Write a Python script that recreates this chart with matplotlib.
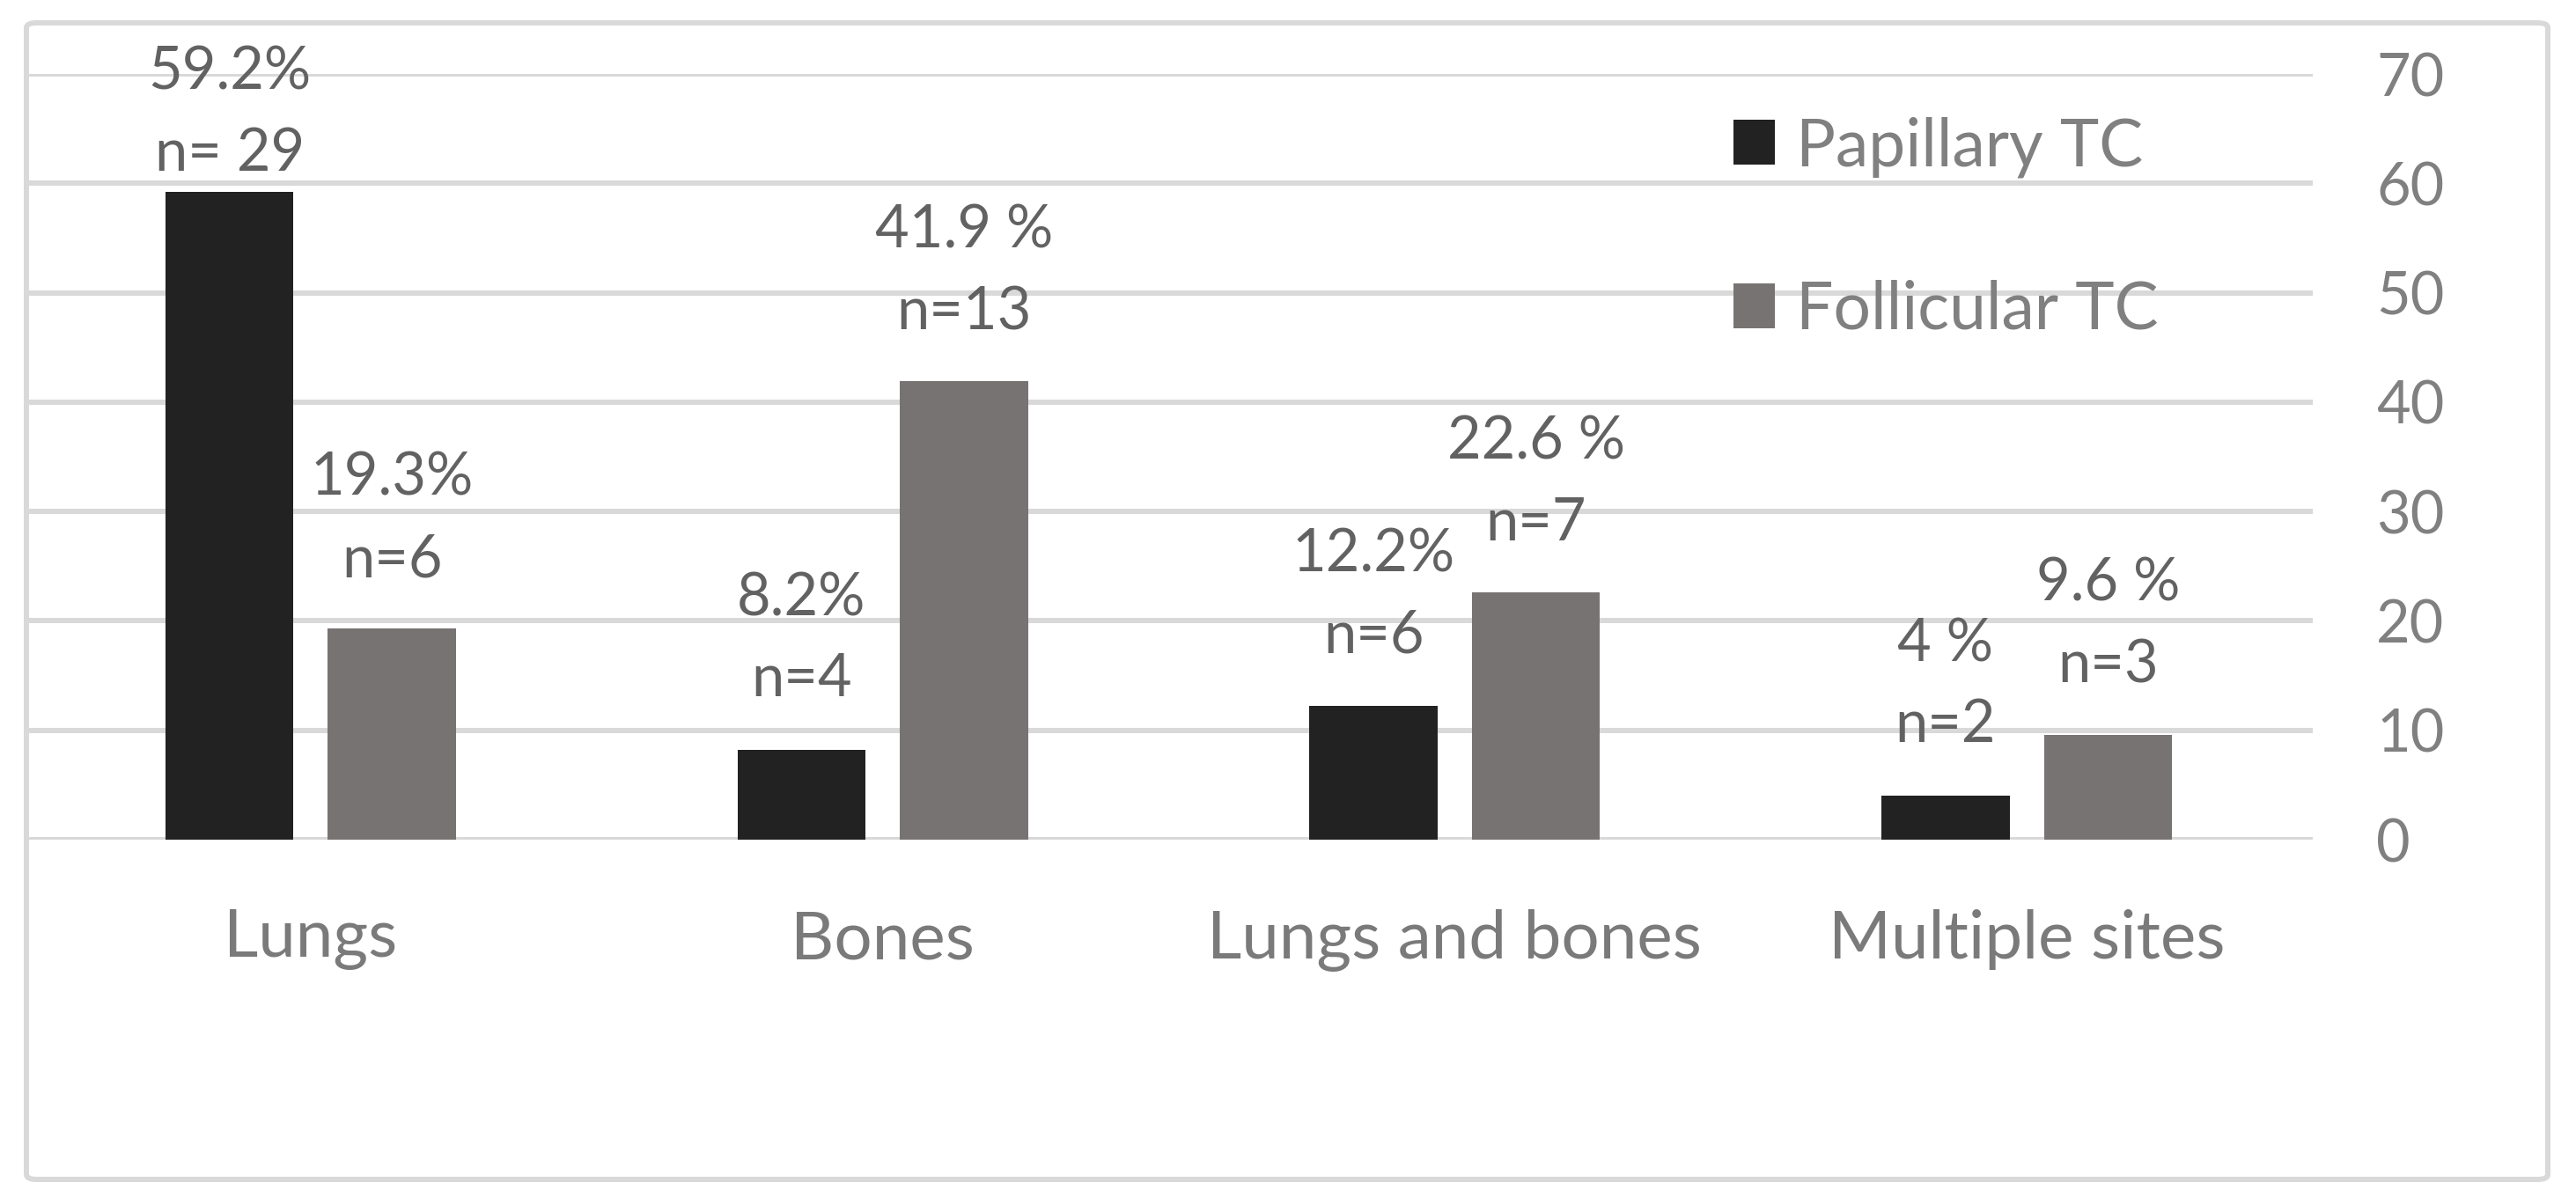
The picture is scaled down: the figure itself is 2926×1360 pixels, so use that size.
import matplotlib
matplotlib.use("Agg")
import matplotlib.pyplot as plt
from matplotlib.patches import FancyBboxPatch, Patch
import numpy as np

categories = ["Lungs", "Bones", "Lungs and bones", "Multiple sites"]
series_names = ["Papillary TC", "Follicular TC"]
papillary = [59.2, 8.2, 12.2, 4.0]
follicular = [19.3, 41.9, 22.6, 9.6]
papillary_pct = ["59.2%", "8.2%", "12.2%", "4 %"]
papillary_n = ["n= 29", "n=4", "n=6", "n=2"]
follicular_pct = ["19.3%", "41.9 %", "22.6 %", "9.6 %"]
follicular_n = ["n=6", "n=13", "n=7", "n=3"]
yticks = [0, 10, 20, 30, 40, 50, 60, 70]

FONT = ["Lato", "DejaVu Sans"]
plt.rcParams["font.family"] = FONT

W, H = 2926, 1360
DPI = 100
fig = plt.figure(figsize=(W / DPI, H / DPI), dpi=DPI)
fig.patch.set_facecolor("white")

# axes placement in pixel terms
ax_l, ax_r = 28, 2627
ax_b, ax_t = 954, 84
ax = fig.add_axes([ax_l / W, 1 - ax_b / H, (ax_r - ax_l) / W, (ax_b - ax_t) / H])

col_pap = "#222222"
col_fol = "#787373"
grid_col = "#d9d9d9"
lbl_col = "#626262"

x = np.arange(len(categories))
bw = 0.224
off = 0.142

ax.set_xlim(-0.5, len(categories) - 0.5)
ax.set_ylim(0, 70)
for yv in yticks:
    ax.axhline(yv, color=grid_col, lw=4.3, zorder=0)

ax.bar(x - off, papillary, width=bw, color=col_pap, zorder=2)
ax.bar(x + off, follicular, width=bw, color=col_fol, zorder=2)

px2pt = 72 / DPI
def label(xc, val, l1, l2, o2=78, o1=171):
    ax.annotate(l2, xy=(xc, val), xytext=(0, o2 * px2pt), textcoords="offset points",
                ha="center", va="center", fontsize=48, color=lbl_col, zorder=3)
    ax.annotate(l1, xy=(xc, val), xytext=(0, o1 * px2pt), textcoords="offset points",
                ha="center", va="center", fontsize=48, color=lbl_col, zorder=3)

special = {0: (43, 136)}
for i in range(len(categories)):
    o2, o1 = special.get(i, (80, 172))
    label(x[i] - off, papillary[i], papillary_pct[i], papillary_n[i], o2, o1)
    label(x[i] + off, follicular[i], follicular_pct[i], follicular_n[i])

for s in ax.spines.values():
    s.set_visible(False)
ax.yaxis.tick_right()
ax.set_yticks(yticks)
ax.set_yticklabels([str(v) for v in yticks])
ax.tick_params(axis="y", length=0, pad=52, labelsize=48, labelcolor="#808080")
for t in ax.get_yticklabels():
    t.set_horizontalalignment("left")
ax.set_xticks(x)
ax.set_xticklabels(categories)
ax.tick_params(axis="x", length=0, pad=57, labelsize=55, labelcolor="#7a7a7a")

handles = [Patch(facecolor=col_pap), Patch(facecolor=col_fol)]
leg = fig.legend(handles, series_names, loc="upper left",
                 bbox_to_anchor=(1969 / W, 1 - 132 / H), frameon=False,
                 fontsize=54, handlelength=0.62, handleheight=0.66,
                 handletextpad=0.33, labelspacing=1.55, borderpad=0, borderaxespad=0)
for t in leg.get_texts():
    t.set_color("#808080")

# outer rounded border
border = FancyBboxPatch((30 / W, 1 - 1340 / H), (2894 - 30) / W, (1340 - 26) / H,
                        boxstyle="round,pad=0,rounding_size=0.004",
                        transform=fig.transFigure, facecolor="none",
                        edgecolor=grid_col, lw=4.3, zorder=10)
fig.patches.append(border)

fig.savefig("out.png", dpi=DPI, facecolor="white")
